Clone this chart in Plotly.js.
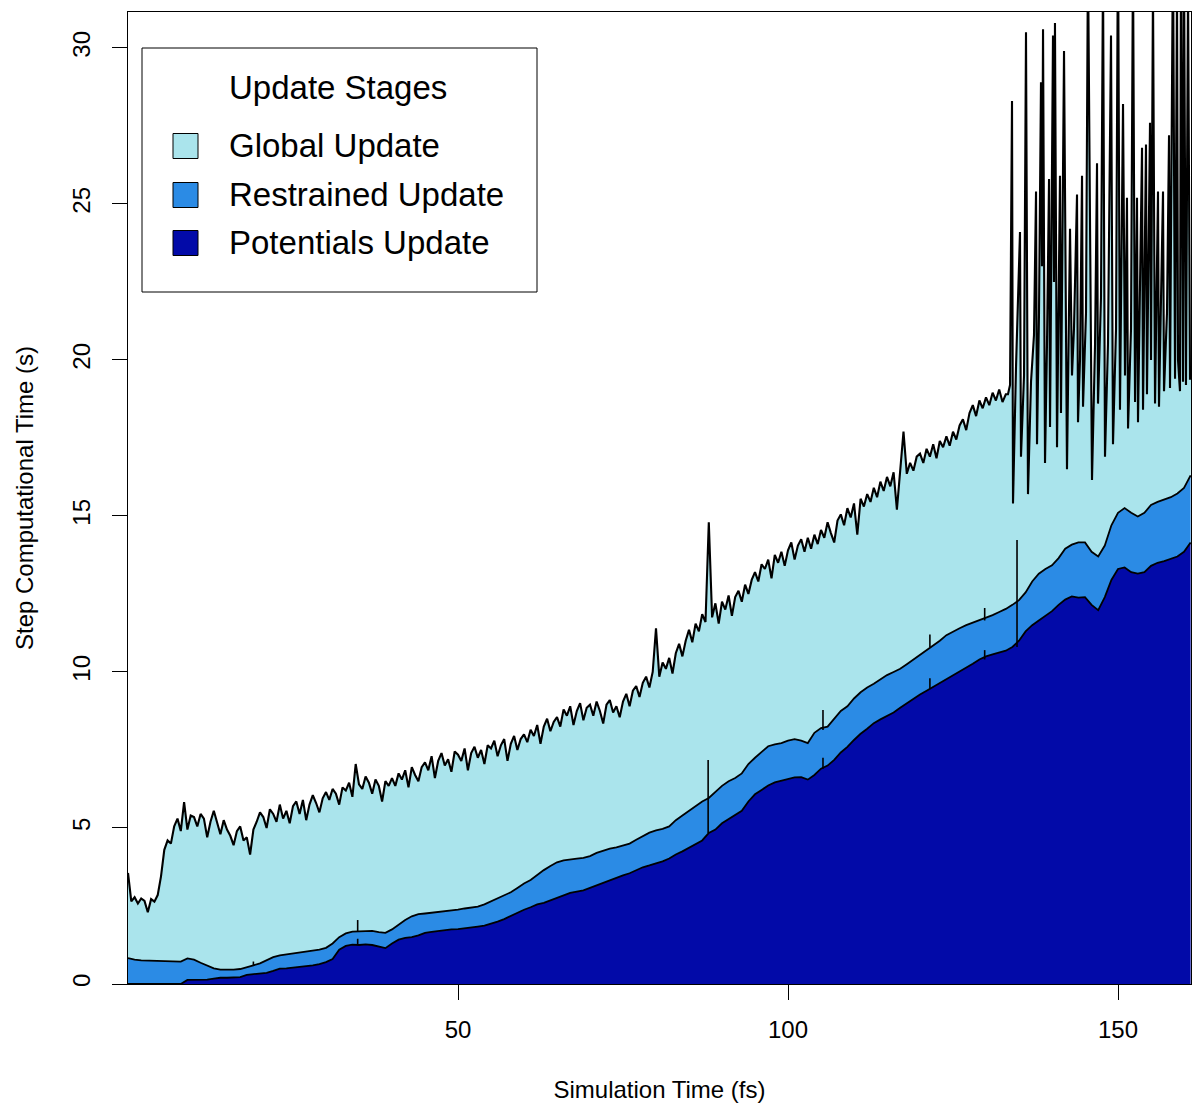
<!DOCTYPE html>
<html>
<head>
<meta charset="utf-8">
<script src="https://cdn.plot.ly/plotly-3.0.1.min.js"></script>
<style>html,body{margin:0;padding:0;background:#fff;}#chart{width:1193px;height:1111px;}</style>
</head>
<body>
<div id="chart"></div>
<script>
// ---------------- DATA ----------------
// Stage names (legend order, top to bottom)
const stageNames = ["Global Update", "Restrained Update", "Potentials Update"];
const stageColors = ["#AAE4EC", "#2B8BE5", "#020AA8"];

// Sampling times (fs) for the two lower (smooth) layers
const layerTime = [0,1,2,3,4,5,6,7,8,9,10,11,12,13,14,15,16,17,18,19,20,21,22,23,24,25,26,27,28,29,30,31,32,33,34,35,36,37,38,39,40,41,42,43,44,45,46,47,48,49,50,51,52,53,54,55,56,57,58,59,60,61,62,63,64,65,66,67,68,69,70,71,72,73,74,75,76,77,78,79,80,81,82,83,84,85,86,87,88,89,90,91,92,93,94,95,96,97,98,99,100,101,102,103,104,105,106,107,108,109,110,111,112,113,114,115,116,117,118,119,120,121,122,123,124,125,126,127,128,129,130,131,132,133,134,135,136,137,138,139,140,141,142,143,144,145,146,147,148,149,150,151,152,153,154,155,156,157,158,159,160,161];

// Potentials Update time (s) - bottom layer
const potentialsTime = [0,0,0,0,0,0,0,0,0,0.13,0.13,0.13,0.14,0.17,0.2,0.2,0.21,0.22,0.29,0.31,0.33,0.36,0.42,0.49,0.5,0.52,0.55,0.58,0.6,0.64,0.7,0.8,1.1,1.22,1.26,1.25,1.27,1.25,1.2,1.15,1.3,1.42,1.48,1.5,1.56,1.64,1.67,1.7,1.72,1.75,1.76,1.78,1.82,1.84,1.87,1.93,2.0,2.08,2.18,2.3,2.38,2.46,2.55,2.6,2.68,2.78,2.86,2.92,2.96,3.0,3.08,3.16,3.24,3.32,3.42,3.48,3.55,3.65,3.74,3.8,3.86,3.93,4.02,4.15,4.25,4.36,4.47,4.6,4.84,4.95,5.15,5.28,5.4,5.55,5.85,6.08,6.22,6.36,6.46,6.52,6.56,6.62,6.63,6.55,6.7,6.9,7.0,7.18,7.42,7.6,7.82,8.02,8.18,8.36,8.48,8.6,8.7,8.85,9.0,9.15,9.28,9.4,9.52,9.64,9.78,9.9,10.02,10.14,10.26,10.4,10.5,10.56,10.62,10.68,10.8,11.0,11.3,11.5,11.65,11.8,11.95,12.15,12.32,12.42,12.38,12.4,12.15,11.98,12.4,12.95,13.3,13.35,13.2,13.15,13.2,13.4,13.5,13.55,13.62,13.7,13.85,14.15];

// Potentials + Restrained Update time (s) - top of the middle layer
const throughRestrainedTime = [0.83,0.78,0.76,0.75,0.74,0.74,0.72,0.71,0.72,0.82,0.78,0.68,0.58,0.5,0.46,0.45,0.46,0.48,0.55,0.6,0.66,0.75,0.86,0.92,0.95,0.98,1.01,1.03,1.06,1.1,1.16,1.3,1.5,1.62,1.68,1.68,1.7,1.7,1.66,1.64,1.75,1.9,2.05,2.17,2.24,2.26,2.28,2.32,2.34,2.36,2.38,2.42,2.46,2.48,2.55,2.65,2.74,2.85,2.94,3.08,3.22,3.33,3.5,3.65,3.78,3.9,3.96,4.0,4.02,4.04,4.1,4.2,4.27,4.34,4.38,4.45,4.5,4.62,4.74,4.85,4.92,4.97,5.05,5.25,5.4,5.55,5.72,5.85,5.96,6.15,6.35,6.5,6.6,6.75,7.05,7.25,7.45,7.62,7.68,7.72,7.8,7.85,7.8,7.72,8.05,8.2,8.25,8.5,8.75,8.9,9.15,9.35,9.5,9.62,9.76,9.9,10.0,10.1,10.25,10.4,10.55,10.7,10.85,11.0,11.18,11.3,11.4,11.5,11.58,11.65,11.72,11.82,11.92,12.02,12.15,12.3,12.55,12.9,13.15,13.3,13.42,13.65,13.95,14.08,14.15,14.15,13.85,13.7,14.05,14.7,15.1,15.25,15.1,14.98,15.1,15.35,15.45,15.52,15.6,15.72,15.9,16.3];

// Single-step glitches in the two lower layers (time, low, high)
const glitchTime = [19, 34.8, 34.8, 87.9, 105.3, 105.3, 121.5, 121.5, 129.8, 129.8, 134.7];
const glitchLow  = [0.6, 1.25, 1.68, 4.84, 6.9, 8.14, 9.45, 10.8, 10.4, 11.65, 10.8];
const glitchHigh = [0.72, 1.45, 2.05, 7.18, 7.25, 8.78, 9.8, 11.2, 10.7, 12.05, 14.23];

// Total step time (s), steady part, sampled every 0.5 fs
const totalTimeSteady = [0,0.5,1,1.5,2,2.5,3,3.5,4,4.5,5,5.5,6,6.5,7,7.5,8,8.5,9,9.5,10,10.5,11,11.5,12,12.5,13,13.5,14,14.5,15,15.5,16,16.5,17,17.5,18,18.5,19,19.5,20,20.5,21,21.5,22,22.5,23,23.5,24,24.5,25,25.5,26,26.5,27,27.5,28,28.5,29,29.5,30,30.5,31,31.5,32,32.5,33,33.5,34,34.5,35,35.5,36,36.5,37,37.5,38,38.5,39,39.5,40,40.5,41,41.5,42,42.5,43,43.5,44,44.5,45,45.5,46,46.5,47,47.5,48,48.5,49,49.5,50,50.5,51,51.5,52,52.5,53,53.5,54,54.5,55,55.5,56,56.5,57,57.5,58,58.5,59,59.5,60,60.5,61,61.5,62,62.5,63,63.5,64,64.5,65,65.5,66,66.5,67,67.5,68,68.5,69,69.5,70,70.5,71,71.5,72,72.5,73,73.5,74,74.5,75,75.5,76,76.5,77,77.5,78,78.5,79,79.5,80,80.5,81,81.5,82,82.5,83,83.5,84,84.5,85,85.5,86,86.5,87,87.5,88,88.5,89,89.5,90,90.5,91,91.5,92,92.5,93,93.5,94,94.5,95,95.5,96,96.5,97,97.5,98,98.5,99,99.5,100,100.5,101,101.5,102,102.5,103,103.5,104,104.5,105,105.5,106,106.5,107,107.5,108,108.5,109,109.5,110,110.5,111,111.5,112,112.5,113,113.5,114,114.5,115,115.5,116,116.5,117,117.5,118,118.5,119,119.5,120,120.5,121,121.5,122,122.5,123,123.5,124,124.5,125,125.5,126,126.5,127,127.5,128,128.5,129,129.5,130,130.5,131,131.5,132,132.5,133];
const totalSteady = [
3.56,2.65,2.78,2.58,2.74,2.66,2.3,2.72,2.64,2.85,
3.45,4.3,4.6,4.5,5.05,5.3,4.9,5.83,4.95,5.4,
5.35,5.05,5.45,5.3,4.7,5.2,5.55,5.15,4.8,5.25,
4.95,4.75,4.45,4.9,5.05,4.6,4.7,4.15,4.95,5.2,
5.5,5.35,5.0,5.6,5.45,5.2,5.75,5.3,5.55,5.15,
5.7,5.85,5.45,5.9,5.25,5.75,6.05,5.8,5.5,5.95,
6.15,5.9,6.25,6.1,5.75,6.3,6.2,6.45,6.0,7.05,
6.4,6.25,6.65,6.45,6.1,6.55,6.35,5.85,6.5,6.35,
6.6,6.35,6.75,6.55,6.85,6.3,6.95,6.7,6.5,6.95,
7.1,6.85,7.3,6.6,7.15,7.4,7.0,7.2,6.8,7.45,
7.35,7.15,7.55,6.85,7.4,7.6,7.25,7.5,7.05,7.65,
7.55,7.8,7.3,7.65,7.85,7.15,7.7,7.95,7.5,7.85,
8.0,7.75,8.15,7.95,8.3,7.7,8.25,8.5,8.1,8.4,
8.55,8.25,8.8,8.6,8.9,8.3,8.75,9.0,8.45,8.85,
8.95,8.6,9.05,8.75,8.35,8.95,9.1,8.7,8.9,8.55,
9.05,9.3,8.9,9.4,9.55,9.2,9.65,9.85,9.5,10.0,
11.4,9.85,10.3,10.1,10.45,9.95,10.6,10.9,10.5,11.0,
11.35,10.95,11.55,11.3,11.85,11.6,14.8,11.75,12.2,11.55,
12.25,12.0,12.45,11.8,12.4,12.6,12.25,12.8,12.5,12.95,
13.2,12.9,13.45,13.3,13.6,13.0,13.75,13.5,13.85,13.4,
13.9,14.15,13.6,14.05,14.25,13.85,14.3,13.95,14.4,14.1,
14.55,14.3,14.8,14.45,14.15,14.85,15.05,14.7,15.25,14.95,
15.4,14.4,15.55,15.3,15.7,15.45,15.9,15.6,16.1,15.8,
16.25,15.95,16.4,15.2,16.55,17.7,16.35,16.7,16.45,16.9,
17.0,16.7,17.15,16.9,17.3,16.85,17.4,17.2,17.55,17.25,
17.7,17.45,17.9,18.1,17.75,18.3,18.55,18.2,18.7,18.45,
18.8,18.55,18.95,18.7,19.05,18.65,18.9];

// Total step time (s), spiky final part
const totalTimeSpiky = [133.33,133.64,133.94,134.09,134.55,135.15,135.30,135.76,136.06,136.36,136.82,137.27,137.58,137.73,138.03,138.33,138.48,138.64,138.94,139.24,139.55,139.70,140.15,140.30,140.45,140.76,141.21,141.36,141.82,142.27,142.73,143.03,143.33,143.79,143.94,144.24,144.55,144.70,145.15,145.45,146.06,146.52,146.82,146.97,147.42,147.73,148.03,148.48,148.94,149.24,149.70,150.00,150.30,150.76,151.06,151.36,151.52,151.97,152.27,152.58,152.88,153.03,153.64,153.79,154.24,154.39,154.85,155.00,155.30,155.61,156.06,156.21,156.82,156.97,157.42,157.73,157.88,158.33,158.64,158.94,159.09,159.39,159.55,159.85,160.00,160.30,160.61,160.91,161.06];
const totalSpiky = [18.9,19.2,28.3,15.4,19.8,24.1,16.9,19.5,30.5,15.7,19.3,20.8,25.4,17.3,21.5,28.9,23.0,30.6,16.7,20.5,25.8,17.85,30.4,22.5,30.8,17.2,25.9,18.3,29.9,16.5,24.2,19.5,21.0,25.3,18.0,20.0,25.9,18.5,21.5,33,16.15,20.5,26.3,18.6,22.0,32.5,16.9,20.5,30.4,17.3,21.0,34,18.4,28.2,19.5,25.2,17.8,21.0,33,18.65,25.2,18.0,26.8,18.4,26.9,18.9,27.6,20.0,32,18.6,25.4,18.5,25.4,19.0,21.5,27.2,19.1,33.5,19.4,32,20.0,19.0,34,19.3,33,19.2,32,19.4,19.4];

const xTickVals = [50, 100, 150];
const yTickVals = [0, 5, 10, 15, 20, 25, 30];

// ---------------- CHART ----------------
const totalTime = totalTimeSteady.concat(totalTimeSpiky);
const totalStep = totalSteady.concat(totalSpiky);

const gx = [], gy = [];
for (let i = 0; i < glitchTime.length; i++) {
  gx.push(glitchTime[i], glitchTime[i], null);
  gy.push(glitchLow[i], glitchHigh[i], null);
}

const lineStyle = {color: "#000", width: 1.8};
const traces = [
  {x: layerTime, y: potentialsTime, type: "scatter", mode: "lines", fill: "tozeroy",
   fillcolor: stageColors[2], line: lineStyle, name: stageNames[2], hoverinfo: "skip"},
  {x: layerTime, y: throughRestrainedTime, type: "scatter", mode: "lines", fill: "tonexty",
   fillcolor: stageColors[1], line: lineStyle, name: stageNames[1], hoverinfo: "skip"},
  {x: totalTime, y: totalStep, type: "scatter", mode: "lines", fill: "tonexty",
   fillcolor: stageColors[0], line: {color: "#000", width: 2.1}, name: stageNames[0], hoverinfo: "skip"},
  {x: gx, y: gy, type: "scatter", mode: "lines", line: {color: "#000", width: 1.6},
   showlegend: false, hoverinfo: "skip", connectgaps: false}
];

// plot area in pixels
const L = 128, R = 1191, T = 12, B = 984;
const px = v => (v - L) / (R - L);
const py = v => (B - v) / (B - T);
const FONT = "Liberation Sans, Arial, Helvetica, sans-serif";

const shapes = [
  {type: "rect", xref: "paper", yref: "paper", x0: px(142), x1: px(537), y0: py(292), y1: py(48),
   fillcolor: "#fff", line: {color: "#000", width: 1}, layer: "above"}
];
const annotations = [
  {xref: "paper", yref: "paper", x: px(227), y: py(87), xanchor: "left", yanchor: "middle",
   text: "Update Stages", showarrow: false, font: {family: FONT, size: 33, color: "#000"}}
];
const rowY = [146, 195, 243];
for (let i = 0; i < 3; i++) {
  shapes.push({type: "rect", xref: "paper", yref: "paper", x0: px(173), x1: px(198),
    y0: py(rowY[i] + 12.5), y1: py(rowY[i] - 12.5), fillcolor: stageColors[i],
    line: {color: "#000", width: 1}, layer: "above"});
  annotations.push({xref: "paper", yref: "paper", x: px(227), y: py(rowY[i]), xanchor: "left",
    yanchor: "middle", text: stageNames[i], showarrow: false,
    font: {family: FONT, size: 33, color: "#000"}});
}

const layout = {
  width: 1193, height: 1111,
  margin: {l: L, r: 1193 - R, t: T, b: 1111 - B, pad: 0},
  paper_bgcolor: "#fff", plot_bgcolor: "#fff",
  showlegend: false,
  font: {family: FONT, size: 24, color: "#000"},
  xaxis: {range: [0, 161.06], tickvals: xTickVals, ticktext: xTickVals.map(String),
    ticks: "outside", ticklen: 15, tickwidth: 1, tickcolor: "#000",
    showline: true, linecolor: "#000", linewidth: 1, mirror: true,
    showgrid: false, zeroline: false, ticklabelstandoff: 9,
    tickfont: {family: FONT, size: 24, color: "#000"},
    title: {text: "Simulation Time (fs)", font: {family: FONT, size: 24, color: "#000"}, standoff: 39}},
  yaxis: {range: [0, 31.15], tickvals: yTickVals, ticktext: yTickVals.map(String),
    ticks: "outside", ticklen: 15, tickwidth: 1, tickcolor: "#000", tickangle: -90,
    showline: true, linecolor: "#000", linewidth: 1, mirror: true,
    showgrid: false, zeroline: false, ticklabelstandoff: 12,
    tickfont: {family: FONT, size: 24, color: "#000"},
    title: {text: "Step Computational Time (s)", font: {family: FONT, size: 24, color: "#000"}, standoff: 28}},
  shapes: shapes,
  annotations: annotations
};

Plotly.newPlot("chart", traces, layout, {displayModeBar: false, staticPlot: true});
</script>
</body>
</html>
